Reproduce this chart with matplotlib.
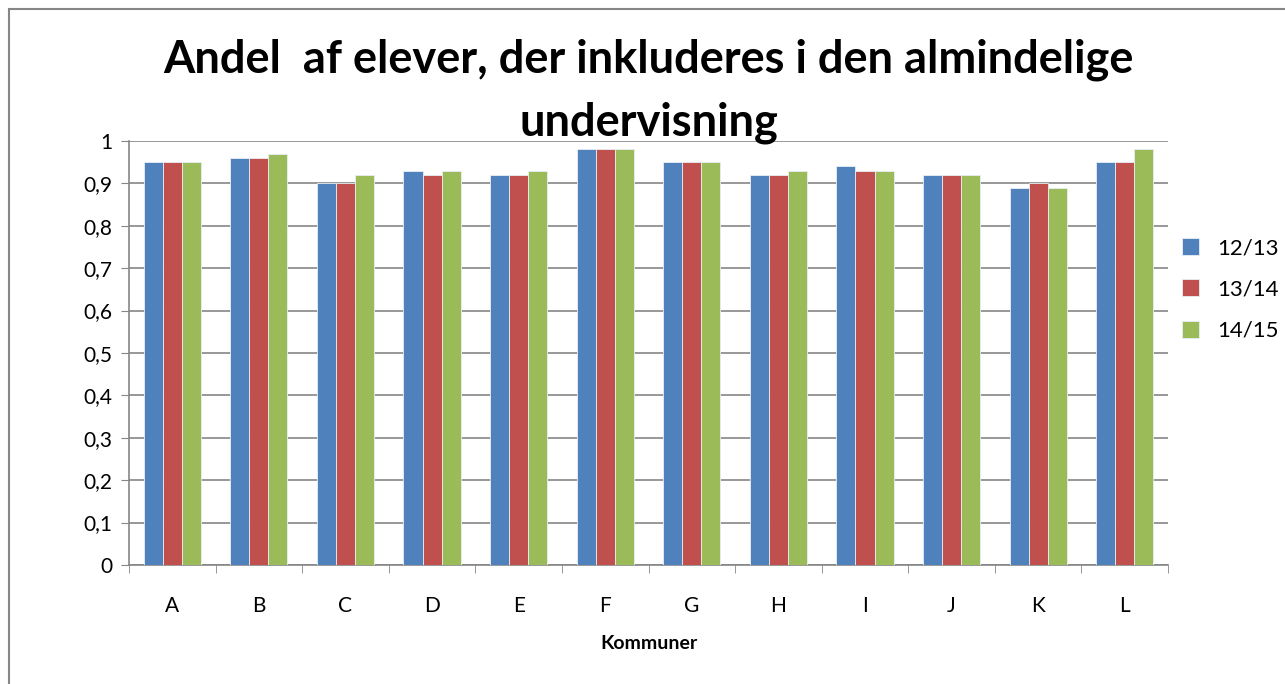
import matplotlib.pyplot as plt
import numpy as np
from matplotlib.patches import Rectangle

plt.rcParams['font.family'] = ['Lato', 'DejaVu Sans']

kommuner = ['A', 'B', 'C', 'D', 'E', 'F', 'G', 'H', 'I', 'J', 'K', 'L']
aar_12_13 = [0.95, 0.96, 0.90, 0.93, 0.92, 0.98, 0.95, 0.92, 0.94, 0.92, 0.89, 0.95]
aar_13_14 = [0.95, 0.96, 0.90, 0.92, 0.92, 0.98, 0.95, 0.92, 0.93, 0.92, 0.90, 0.95]
aar_14_15 = [0.95, 0.97, 0.92, 0.93, 0.93, 0.98, 0.95, 0.93, 0.93, 0.92, 0.89, 0.98]
serier = ['12/13', '13/14', '14/15']
farver = ['#4F81BD', '#C0504D', '#9BBB59']

fig = plt.figure(figsize=(12.85, 6.84), dpi=100)
ax = fig.add_axes([0.1004, 0.174, 0.8086, 0.62])

x = np.arange(len(kommuner))
w = 0.22
for i, (vals, navn, farve) in enumerate(zip([aar_12_13, aar_13_14, aar_14_15], serier, farver)):
    ax.bar(x + (i - 1) * w, vals, width=w, color=farve, label=navn,
           edgecolor='#e8eef5', linewidth=0.6, zorder=3)

ax.set_xlim(-0.5, len(kommuner) - 0.5)
ax.set_ylim(0, 1)
ax.set_yticks(np.arange(0, 1.01, 0.1))
ax.set_yticklabels(['0' if v == 0 else ('1' if v == 1 else f'{v:.1f}'.replace('.', ','))
                    for v in np.arange(0, 1.01, 0.1)], fontsize=15)
ax.set_xticks(x)
ax.set_xticklabels(kommuner, fontsize=15)
ax.set_xticks(np.arange(-0.5, len(kommuner)), minor=True)
ax.tick_params(axis='x', which='major', length=0, pad=22)
ax.tick_params(axis='x', which='minor', length=6, color='#868686', direction='out')
ax.tick_params(axis='y', length=6, color='#868686', direction='out', pad=6)

ax.grid(axis='y', color='#868686', linewidth=1.2, zorder=0)
for s in ['top', 'right']:
    ax.spines[s].set_visible(False)
for s in ['left', 'bottom']:
    ax.spines[s].set_color('#868686')
    ax.spines[s].set_linewidth(1.2)

ax.set_xlabel('Kommuner', fontsize=14, fontweight='bold', labelpad=14)
fig.text(0.505, 0.912, 'Andel  af elever, der inkluderes i den almindelige',
         ha='center', va='center', fontsize=32.5, fontweight='bold')
fig.text(0.505, 0.82, 'undervisning', ha='center', va='center',
         fontsize=32.5, fontweight='bold')

fig.legend(loc='center left', bbox_to_anchor=(0.9195, 0.577), frameon=False,
           fontsize=16, handlelength=0.8, handleheight=0.8, labelspacing=0.95,
           handletextpad=0.8, borderaxespad=0, borderpad=0)

fig.patches.append(Rectangle((9 / 1285, -0.01), 1.0, 1 - 9 / 684 + 0.01,
                             transform=fig.transFigure, fill=False,
                             edgecolor='#868686', linewidth=1.5))

fig.savefig('out.png', dpi=100)
